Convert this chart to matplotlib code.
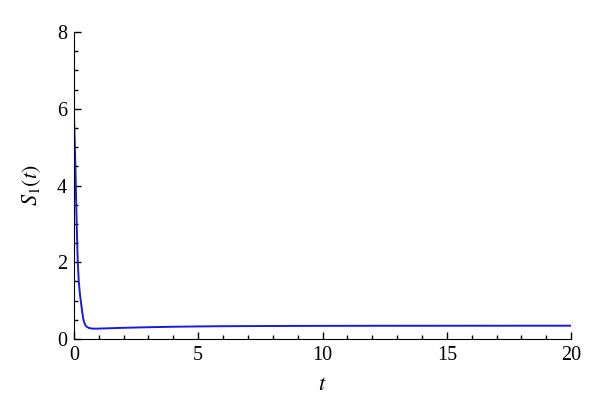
import matplotlib
matplotlib.use("Agg")
import matplotlib.pyplot as plt
from matplotlib.ticker import MultipleLocator

# values
t = [0.0, 0.03, 0.06, 0.08, 0.12, 0.16, 0.2, 0.25, 0.3, 0.35, 0.39, 0.45,
     0.5, 0.6, 0.7, 0.8, 1.0, 1.5, 2.0, 3.0, 4.0, 5.0, 6.0, 8.0, 10.0,
     12.0, 15.0, 18.0, 20.0]
s1 = [6.0, 5.3, 4.6, 4.0, 2.9, 2.0, 1.5, 1.15, 0.9, 0.65, 0.5, 0.38,
      0.33, 0.29, 0.275, 0.27, 0.272, 0.282, 0.292, 0.308, 0.32, 0.328,
      0.334, 0.34, 0.343, 0.345, 0.346, 0.347, 0.347]

plt.rcParams['font.family'] = ['Liberation Serif', 'DejaVu Serif']
plt.rcParams['mathtext.fontset'] = 'stix'

fig = plt.figure(figsize=(6, 4.17), dpi=100)
ax = fig.add_axes([0.123, 0.187, 0.829, 0.736])

ax.plot(t, s1, color='#1a1adc', linewidth=1.4)

ax.set_xlim(0, 20)
ax.set_ylim(0, 8)
ax.xaxis.set_major_locator(MultipleLocator(5))
ax.xaxis.set_minor_locator(MultipleLocator(1))
ax.yaxis.set_major_locator(MultipleLocator(2))
ax.yaxis.set_minor_locator(MultipleLocator(0.5))

ax.spines['top'].set_visible(False)
ax.spines['right'].set_visible(False)
ax.tick_params(which='both', direction='in', labelsize=14.5, width=1)
ax.tick_params(which='major', length=5, pad=5)
ax.tick_params(which='minor', length=3)

ax.set_xlabel(r'$t$', fontsize=16, labelpad=8)
ax.set_ylabel(r'$S_1(t)$', fontsize=16, labelpad=10)

fig.savefig('out.png', dpi=100)
